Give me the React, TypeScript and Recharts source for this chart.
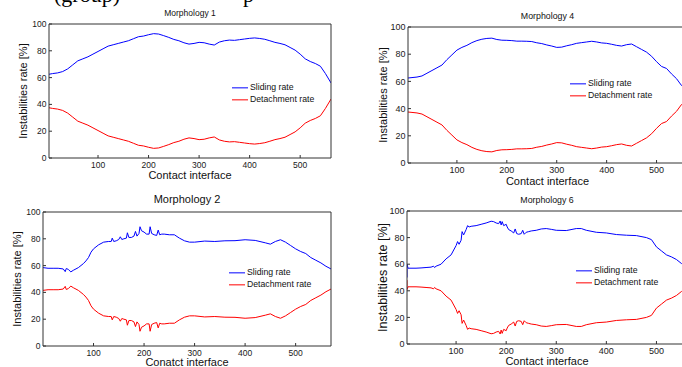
import React from 'react';
import { LineChart, Line, XAxis, YAxis, Legend } from 'recharts';

// Four instability-rate panels (sliding vs detachment) along the contact interface

const SANS = '"Liberation Sans", Arial, Helvetica, sans-serif';
const SERIF = '"Liberation Serif", "Times New Roman", serif';
const AXIS_COLOR = '#333';
const TEXT_COLOR = '#111';
const BLUE = '#0000ff';
const RED = '#ff0000';

const X_TICKS = [100, 200, 300, 400, 500];
const Y_TICKS = [0, 20, 40, 60, 80, 100];
const Y_LABEL = 'Instabilities rate [%]';
const SERIES_ORDER = ['Sliding rate', 'Detachment rate'];

// ---- Morphology 1 ----
const m1Pos = [3, 10, 20, 30, 40, 50, 60, 70, 80, 90, 100, 110, 120, 130, 140, 150, 160, 170, 180, 190, 200, 210, 220, 230, 240, 250, 260, 270, 280, 290, 300, 310, 320, 330, 340, 350, 360, 370, 380, 390, 400, 410, 420, 430, 440, 450, 460, 470, 480, 490, 500, 510, 520, 530, 540, 550, 561];
const m1Sliding = [62.5, 63, 63.5, 64.5, 66.5, 69.5, 72.5, 74, 75.5, 77.5, 79.5, 81.5, 83.5, 84.5, 85.5, 86.5, 87.5, 89, 90.5, 91, 92, 92.8, 92.5, 91.3, 90, 88.5, 87.5, 86, 85, 85.5, 86.3, 86, 85, 84.3, 86.5, 87.5, 88, 87.8, 88.3, 88.8, 89.3, 89.6, 89.2, 88.6, 87.5, 86.3, 85.5, 84.5, 82.5, 80.5, 77.5, 74, 72, 70.5, 68.5, 63, 56];
const m1Detach = [37.5, 37, 36.5, 35.5, 33.5, 30.5, 27.5, 26, 24.5, 22.5, 20.5, 18.5, 16.5, 15.5, 14.5, 13.5, 12.5, 11, 9.5, 9, 8, 7.2, 7.5, 8.7, 10, 11.5, 12.5, 14, 15, 14.5, 13.7, 14, 15, 15.7, 13.5, 12.5, 12, 12.2, 11.7, 11.2, 10.7, 10.4, 10.8, 11.4, 12.5, 13.7, 14.5, 15.5, 17.5, 19.5, 22.5, 26, 28, 29.5, 31.5, 37, 44];

// ---- Morphology 4 ----
const m4Pos = [2, 10, 20, 30, 40, 50, 60, 70, 80, 90, 100, 110, 120, 130, 140, 150, 160, 170, 180, 190, 200, 210, 220, 230, 240, 250, 260, 270, 280, 290, 300, 310, 320, 330, 340, 350, 360, 370, 380, 390, 400, 410, 420, 430, 440, 450, 460, 470, 480, 490, 500, 510, 520, 530, 540, 550, 561];
const m4Sliding = [62.5, 62.8, 63.2, 64, 66, 68, 70, 72, 76, 79.5, 83, 85, 86.5, 88.5, 90, 91, 91.6, 91.8, 90.8, 90.3, 90.2, 90, 89.6, 89.6, 89.5, 89.3, 88.4, 87.8, 86.8, 86, 85, 85.2, 86.2, 87, 88, 88.5, 89, 89.5, 89, 88.3, 88, 87.3, 86.5, 86, 87, 87.5, 85.5, 83.5, 81.5, 78.5, 74.5, 71, 69.5, 65.5, 62, 57, 54];
const m4Detach = [37.5, 37.2, 36.8, 36, 34, 32, 30, 28, 24, 20.5, 17, 15, 13.5, 11.5, 10, 9, 8.4, 8.2, 9.2, 9.7, 9.8, 10, 10.4, 10.4, 10.5, 10.7, 11.6, 12.2, 13.2, 14, 15, 14.8, 13.8, 13, 12, 11.5, 11, 10.5, 11, 11.7, 12, 12.7, 13.5, 14, 13, 12.5, 14.5, 16.5, 18.5, 21.5, 25.5, 29, 30.5, 34.5, 38, 43, 46];

// ---- Morphology 2 ----
const m2Pos = [0, 10, 20, 30, 40, 44, 46, 50, 55, 60, 70, 80, 85, 90, 95, 100, 110, 120, 130, 135, 137, 140, 145, 150, 153, 156, 160, 165, 167, 170, 175, 180, 183, 186, 190, 192, 195, 200, 205, 210, 212, 215, 220, 225, 228, 231, 235, 240, 250, 260, 270, 280, 290, 300, 320, 340, 360, 380, 400, 420, 440, 450, 460, 470, 480, 490, 500, 510, 520, 530, 540, 550, 560, 570];
const m2Sliding = [58.5, 58, 58, 58, 57.5, 55.5, 57.8, 57.2, 55.3, 56.5, 58.5, 61.5, 63.5, 66, 70, 72.5, 75.5, 77.5, 78, 78, 80.5, 78, 78.5, 79.5, 81.5, 79.5, 80, 80.5, 84.5, 81, 81, 82, 85.5, 82, 84, 89, 86, 85, 83.5, 83.5, 89, 84, 83, 82.5, 86.5, 83, 83.5, 83.5, 83, 83, 80.5, 78.5, 77.5, 77.5, 78.3, 78, 78.5, 78.6, 79.3, 78.8, 77, 76, 78, 79.3, 77.5, 75, 72.5, 70.5, 69, 66, 64, 62, 59.5, 57.5];
const m2Detach = [41.5, 42, 42, 42, 42.5, 44.5, 42.2, 42.8, 44.7, 43.5, 41.5, 38.5, 36.5, 34, 30, 27.5, 24.5, 22.5, 22, 22, 19.5, 22, 21.5, 20.5, 18.5, 20.5, 20, 19.5, 15.5, 19, 19, 18, 14.5, 18, 16, 11, 14, 15, 16.5, 16.5, 11, 16, 17, 17.5, 13.5, 17, 16.5, 16.5, 17, 17, 19.5, 21.5, 22.5, 22.5, 21.7, 22, 21.5, 21.4, 20.7, 21.2, 23, 24, 22, 20.7, 22.5, 25, 27.5, 29.5, 31, 34, 36, 38, 40.5, 42.5];

// ---- Morphology 6 ----
const m6Pos = [2, 2, 4, 10, 20, 30, 40, 50, 55, 57, 60, 70, 80, 90, 100, 103, 106, 110, 112, 115, 120, 123, 126, 130, 140, 150, 160, 170, 175, 180, 185, 188, 190, 192, 195, 200, 202, 205, 210, 215, 218, 221, 225, 230, 233, 236, 240, 245, 250, 260, 270, 280, 290, 300, 320, 340, 350, 360, 380, 400, 420, 440, 460, 480, 490, 500, 510, 520, 530, 540, 550, 561];
const m6Sliding = [50, 60, 57, 57, 57, 57.2, 57.5, 57.8, 58.5, 57.5, 58.5, 60, 64, 67, 74, 77, 75, 78, 84.5, 82, 86, 89, 88, 88.5, 89, 90, 91, 92.3, 92, 91, 90.5, 92.5, 89.5, 92, 89, 90, 88, 86, 85, 83.5, 86.5, 83, 82.5, 83, 85.5, 82.5, 84, 84.5, 85, 85.5, 86.5, 86.8, 86.2, 85.5, 85.3, 86.8, 86.8, 85.5, 84, 83.5, 82.3, 81.8, 81.5, 80, 78.5, 73, 70, 67, 65.5, 63.5, 60.5, 58.5];
const m6Detach = [48, 41, 43, 43, 43, 42.8, 42.5, 42.2, 41.5, 42.5, 41.5, 40, 36, 33, 26, 23, 25, 22, 15.5, 18, 14, 11, 12, 11.5, 11, 10, 9, 7.7, 8, 9, 9.5, 7.5, 10.5, 8, 11, 10, 12, 14, 15, 16.5, 13.5, 17, 17.5, 17, 14.5, 17.5, 16, 15.5, 15, 14.5, 13.5, 13.2, 13.8, 14.5, 14.7, 13.2, 13.2, 14.5, 16, 16.5, 17.7, 18.2, 18.5, 20, 21.5, 27, 30, 33, 34.5, 36.5, 39.5, 41.5];

interface Box { l: number; t: number; r: number; b: number }
interface Frame { left: number; top: number; width: number; height: number }

interface PanelProps {
  title: string;
  xLabel: string;
  pos: number[];
  sliding: number[];
  detachment: number[];
  xDomain: [number, number];
  frame: Frame;
  plot: Box;
  legendAt: { x: number; y: number };
  titleSize: number;
  titleGap: number;
  xLabelGap: number;
  yLabelX: number;
  yLabelSize: number;
  tickFontSize: number;
}

const ROW_H = 11.7;

function LegendBox({ payload }: { payload?: any[] }) {
  // keep the plotting order (Sliding first), Recharts sorts legend items by name
  const items = [...(payload || [])].sort(
    (a, b) => SERIES_ORDER.indexOf(a.value) - SERIES_ORDER.indexOf(b.value)
  );
  return (
    <div style={{ fontFamily: SANS, fontSize: 8.7, color: TEXT_COLOR }}>
      {items.map((entry) => (
        <div key={entry.value} style={{ display: 'flex', alignItems: 'center', height: ROW_H, whiteSpace: 'nowrap' }}>
          <svg width={16} height={ROW_H} style={{ display: 'block' }}>
            <line x1={0} x2={16} y1={ROW_H / 2} y2={ROW_H / 2} stroke={entry.color} strokeWidth={1} />
          </svg>
          <span style={{ marginLeft: 2, lineHeight: `${ROW_H}px` }}>{entry.value}</span>
        </div>
      ))}
    </div>
  );
}

function Panel(p: PanelProps) {
  const { frame, plot } = p;
  const rows = p.pos.map((x, i) => ({ x, sliding: p.sliding[i], detachment: p.detachment[i] }));
  const yAxisW = plot.l - frame.left;
  const xAxisH = frame.top + frame.height - plot.b;
  // top / right axes are 1px wide so they still render (box + inner ticks)
  const margin = {
    top: plot.t - frame.top - 1,
    right: frame.left + frame.width - plot.r - 1,
    bottom: 0,
    left: 0,
  };
  const tickStyle = { fontSize: p.tickFontSize, fill: '#1a1a1a', fontFamily: SANS };

  return (
    <div style={{ position: 'absolute', left: frame.left, top: frame.top }}>
      <LineChart width={frame.width} height={frame.height} data={rows} margin={margin}>
        <XAxis
          xAxisId="b"
          dataKey="x"
          type="number"
          domain={p.xDomain}
          ticks={X_TICKS}
          allowDataOverflow
          height={xAxisH}
          stroke={AXIS_COLOR}
          tickSize={-3}
          tickMargin={6.5}
          tick={tickStyle}
          label={{
            value: p.xLabel,
            position: 'insideBottom',
            offset: xAxisH - p.xLabelGap,
            style: { fontSize: 11, fill: TEXT_COLOR, fontFamily: SANS },
          }}
        />
        <XAxis
          xAxisId="t"
          orientation="top"
          dataKey="x"
          type="number"
          domain={p.xDomain}
          ticks={X_TICKS}
          allowDataOverflow
          height={1}
          stroke={AXIS_COLOR}
          tick={false}
          tickSize={-3}
          label={{
            value: p.title,
            position: 'top',
            offset: p.titleGap,
            style: { fontSize: p.titleSize, fill: TEXT_COLOR, fontFamily: SANS },
          }}
        />
        <YAxis
          yAxisId="l"
          type="number"
          domain={[0, 100]}
          ticks={Y_TICKS}
          allowDataOverflow
          width={yAxisW}
          stroke={AXIS_COLOR}
          tickSize={-3}
          tickMargin={5.5}
          tick={tickStyle}
          label={{
            value: Y_LABEL,
            angle: -90,
            position: 'insideLeft',
            offset: p.yLabelX,
            style: { textAnchor: 'middle', fontSize: p.yLabelSize, fill: TEXT_COLOR, fontFamily: SANS },
          }}
        />
        <YAxis
          yAxisId="r"
          orientation="right"
          type="number"
          domain={[0, 100]}
          ticks={Y_TICKS}
          allowDataOverflow
          width={1}
          stroke={AXIS_COLOR}
          tick={false}
          tickSize={-3}
        />
        <Legend
          layout="horizontal"
          align="center"
          verticalAlign="middle"
          wrapperStyle={{
            left: p.legendAt.x - frame.left,
            top: p.legendAt.y - frame.top - ROW_H / 2,
            width: 'auto',
            height: 'auto',
          }}
          content={(props: any) => <LegendBox payload={props.payload} />}
        />
        <Line
          xAxisId="b"
          yAxisId="l"
          dataKey="sliding"
          name="Sliding rate"
          stroke={BLUE}
          strokeWidth={1}
          dot={false}
          isAnimationActive={false}
        />
        <Line
          xAxisId="b"
          yAxisId="l"
          dataKey="detachment"
          name="Detachment rate"
          stroke={RED}
          strokeWidth={1}
          dot={false}
          isAnimationActive={false}
        />
      </LineChart>
    </div>
  );
}

export default function App() {
  return (
    <div
      style={{
        position: 'absolute',
        left: 0,
        top: 0,
        width: 682,
        height: 367,
        overflow: 'hidden',
        background: '#fff',
      }}
    >
      {/* bottom of the caption line above the figure, cut by the crop */}
      <svg width={682} height={14} style={{ position: 'absolute', left: 0, top: 0 }}>
        <text x={54} y={2} fontFamily={SERIF} fontSize={22} fill="#000">(group)</text>
        <text x={243} y={2} fontFamily={SERIF} fontSize={22} fill="#000">p</text>
      </svg>

      <Panel
        title="Morphology 1"
        xLabel="Contact interface"
        pos={m1Pos}
        sliding={m1Sliding}
        detachment={m1Detach}
        xDomain={[3, 561]}
        frame={{ left: 0, top: 0, width: 341, height: 184 }}
        plot={{ l: 49, t: 24, r: 331, b: 158 }}
        legendAt={{ x: 232, y: 88 }}
        titleSize={8.5}
        titleGap={6.7}
        xLabelGap={20.5}
        yLabelX={23}
        yLabelSize={11}
        tickFontSize={8.5}
      />
      <Panel
        title="Morphology 4"
        xLabel="Contact interface"
        pos={m4Pos}
        sliding={m4Sliding}
        detachment={m4Detach}
        xDomain={[2, 561]}
        frame={{ left: 341, top: 0, width: 360, height: 190 }}
        plot={{ l: 408, t: 27, r: 687, b: 163 }}
        legendAt={{ x: 570, y: 84 }}
        titleSize={8.8}
        titleGap={7}
        xLabelGap={21.5}
        yLabelX={41.7}
        yLabelSize={11}
        tickFontSize={9}
      />
      <Panel
        title="Morphology 2"
        xLabel="Conatct interface"
        pos={m2Pos}
        sliding={m2Sliding}
        detachment={m2Detach}
        xDomain={[0, 570]}
        frame={{ left: 0, top: 184, width: 341, height: 183 }}
        plot={{ l: 43, t: 212, r: 331, b: 346 }}
        legendAt={{ x: 229, y: 273 }}
        titleSize={11}
        titleGap={7.6}
        xLabelGap={20}
        yLabelX={17}
        yLabelSize={11}
        tickFontSize={8.5}
      />
      <Panel
        title="Morphology 6"
        xLabel="Contact interface"
        pos={m6Pos}
        sliding={m6Sliding}
        detachment={m6Detach}
        xDomain={[2, 561]}
        frame={{ left: 341, top: 184, width: 360, height: 183 }}
        plot={{ l: 407, t: 211, r: 687, b: 344 }}
        legendAt={{ x: 576, y: 271 }}
        titleSize={8.8}
        titleGap={7.4}
        xLabelGap={20.5}
        yLabelX={41.8}
        yLabelSize={12.6}
        tickFontSize={9}
      />
    </div>
  );
}
